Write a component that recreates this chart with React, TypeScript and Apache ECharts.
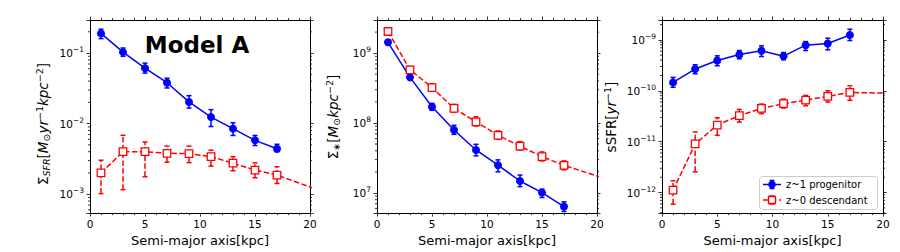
import React, { useEffect, useRef } from "react";
import * as echarts from "echarts";

// ---------- data ----------
const X_PROG = [1, 3, 5, 7, 9, 11, 13, 15, 17];
const X_DESC = [1, 3, 5, 7, 9, 11, 13, 15, 17, 21];

// Panel 1: Sigma_SFR
const sfrProg = [0.19, 0.103, 0.061, 0.038, 0.0203, 0.0124, 0.0085, 0.0058, 0.0044];
const sfrProgLo = [0.16, 0.09, 0.052, 0.032, 0.0166, 0.0091, 0.0068, 0.0049, 0.004];
const sfrProgHi = [0.218, 0.118, 0.072, 0.044, 0.0249, 0.0158, 0.0103, 0.0068, 0.0051];
const sfrDesc = [0.002, 0.004, 0.004, 0.0038, 0.00377, 0.0034, 0.00275, 0.0022, 0.00187, 0.00111];
const sfrDescLo = [0.00102, 0.00116, 0.00177, 0.00284, 0.0028, 0.0025, 0.00215, 0.00171, 0.00142];
const sfrDescHi = [0.00303, 0.00684, 0.0055, 0.0048, 0.0048, 0.0042, 0.0034, 0.00278, 0.00245];

// Panel 2: Sigma_*
const msProg = [1.43e9, 4.5e8, 1.71e8, 7.94e7, 4.12e7, 2.49e7, 1.48e7, 1.01e7, 6.38e6];
const msProgLo = [1.31e9, 4.17e8, 1.52e8, 6.89e7, 3.39e7, 2.0e7, 1.23e7, 8.58e6, 5.42e6];
const msProgHi = [1.55e9, 4.85e8, 1.91e8, 9.27e7, 4.96e7, 2.97e7, 1.8e7, 1.13e7, 7.45e6];
const msDesc = [2.04e9, 5.78e8, 3.22e8, 1.62e8, 1.04e8, 6.67e7, 4.68e7, 3.3e7, 2.48e7, 1.55e7];
const msDescLo = [1.87e9, 5.19e8, 2.87e8, 1.43e8, 9.06e7, 5.85e7, 4.12e7, 2.87e7, 2.14e7];
const msDescHi = [2.22e9, 6.46e8, 3.66e8, 1.85e8, 1.23e8, 7.69e7, 5.42e7, 3.86e7, 2.87e7];

// Panel 3: sSFR
const ssfrProg = [1.46e-10, 2.67e-10, 3.94e-10, 5.16e-10, 6.1e-10, 4.79e-10, 7.87e-10, 8.48e-10, 1.25e-9];
const ssfrProgLo = [1.17e-10, 2.16e-10, 3.1e-10, 4.25e-10, 4.72e-10, 4.06e-10, 6.18e-10, 6.37e-10, 9.7e-10];
const ssfrProgHi = [1.83e-10, 3.24e-10, 4.86e-10, 6.18e-10, 7.63e-10, 5.65e-10, 9.27e-10, 1.08e-9, 1.62e-9];
const ssfrDesc = [1.11e-12, 9.0e-12, 2.12e-11, 3.25e-11, 4.5e-11, 5.57e-11, 6.56e-11, 7.74e-11, 9.27e-11, 8.9e-11];
const ssfrDescLo = [5.9e-13, 2.55e-12, 1.33e-11, 2.43e-11, 3.55e-11, 4.57e-11, 5.08e-11, 6.0e-11, 6.5e-11];
const ssfrDescHi = [1.7e-12, 1.55e-11, 2.95e-11, 4.3e-11, 5.48e-11, 6.87e-11, 8.1e-11, 1.0e-10, 1.25e-10];

const X_TICKS = [0, 5, 10, 15, 20];
const Y_RANGES = [
  [5.4e-4, 0.294],
  [5.14e6, 2.98e9],
  [3.94e-13, 2.46e-9],
];
const DECADES = [
  [-4, -3, -2, -1],
  [6, 7, 8, 9],
  [-13, -12, -11, -10, -9],
];
const MINOR_MULT = [2, 3, 4, 5, 6, 7, 8, 9];

const LEGEND_LABELS = ["z~1 progenitor", "z~0 descendant"];
const TITLE = "Model A";
const X_NAME = "Semi-major axis[kpc]";

const BLUE = "#0000ff";
const RED = "#ff0000";
const FONT = "DejaVu Sans";
const DASH = [5.5, 2.4];

const GRIDS = [
  { left: 90, top: 20, width: 220, height: 194 },
  { left: 377, top: 20, width: 220, height: 194 },
  { left: 662, top: 20, width: 221, height: 194 },
];

function minorTicks(i: number) {
  const [lo, hi] = Y_RANGES[i];
  const out: number[] = [];
  DECADES[i].forEach((d) => {
    MINOR_MULT.forEach((m) => {
      const v = m * Math.pow(10, d);
      if (v > lo && v < hi) out.push(v);
    });
  });
  return out;
}

function yLabel(v: number) {
  const l = Math.log10(v);
  const e = Math.round(l);
  if (Math.abs(l - e) > 1e-6) return "";
  return `{b|10}{s|${e < 0 ? "\u2212" : ""}${Math.abs(e)}}`;
}

const axisRich = {
  b: { fontSize: 10.5, fontFamily: FONT, color: "#000" },
  s: { fontSize: 7.5, fontFamily: FONT, color: "#000", padding: [0, 0, 7, 0] },
};

const nameRich = {
  n: { fontSize: 13.5, fontFamily: FONT, color: "#000" },
  i: { fontSize: 13.5, fontFamily: FONT, fontStyle: "italic", color: "#000" },
  sub: { fontSize: 9.5, fontFamily: FONT, fontStyle: "italic", color: "#000", padding: [6, 0, 0, 0] },
  subn: { fontSize: 9.5, fontFamily: FONT, color: "#000", padding: [6, 0, 0, 0] },
  sup: { fontSize: 9.5, fontFamily: FONT, color: "#000", padding: [0, 0, 8, 0] },
};

const Y_NAMES = [
  "{n|Σ}{sub|SFR}{n|[}{i|M}{subn|⊙}{i|yr}{sup|−1}{i|kpc}{sup|−2}{n|]}",
  "{n|Σ}{subn|∗}{n|[}{i|M}{subn|⊙}{i|kpc}{sup|−2}{n|]}",
  "{n|sSFR[}{i|yr}{sup|−1}{n|]}",
];
const Y_NAME_POS = [
  [43, 124],
  [333, 117],
  [611, 117],
];

function errRender(color: string, dashed: boolean) {
  return (params: any, api: any) => {
    const x = api.value(0);
    const p0 = api.coord([x, api.value(1)]);
    const p1 = api.coord([x, api.value(2)]);
    const w = 2.5;
    const style: any = { stroke: color, lineWidth: 1.5 };
    if (dashed) style.lineDash = DASH;
    const capStyle: any = { stroke: color, lineWidth: 1.5 };
    return {
      type: "group",
      children: [
        { type: "line", shape: { x1: p0[0], y1: p0[1], x2: p1[0], y2: p1[1] }, style },
        { type: "line", shape: { x1: p0[0] - w, y1: p0[1], x2: p0[0] + w, y2: p0[1] }, style: capStyle },
        { type: "line", shape: { x1: p1[0] - w, y1: p1[1], x2: p1[0] + w, y2: p1[1] }, style: capStyle },
      ],
    };
  };
}

function minorRender(params: any, api: any) {
  const v = api.value(0);
  const pl = api.coord([0, v]);
  const pr = api.coord([20, v]);
  const st = { stroke: "#000", lineWidth: 0.8 };
  return {
    type: "group",
    children: [
      { type: "line", shape: { x1: pl[0] - 2, y1: pl[1], x2: pl[0], y2: pl[1] }, style: st },
      { type: "line", shape: { x1: pr[0], y1: pr[1], x2: pr[0] + 2, y2: pr[1] }, style: st },
    ],
  };
}

export default function App() {
  const ref = useRef<HTMLDivElement>(null);
  useEffect(() => {
    if (!ref.current) return;
    const chart = echarts.init(ref.current, null, { renderer: "svg" });

    const panels = [
      { prog: sfrProg, lo: sfrProgLo, hi: sfrProgHi, desc: sfrDesc, dlo: sfrDescLo, dhi: sfrDescHi },
      { prog: msProg, lo: msProgLo, hi: msProgHi, desc: msDesc, dlo: msDescLo, dhi: msDescHi },
      { prog: ssfrProg, lo: ssfrProgLo, hi: ssfrProgHi, desc: ssfrDesc, dlo: ssfrDescLo, dhi: ssfrDescHi },
    ];

    const xAxis: any[] = [];
    const yAxis: any[] = [];
    const series: any[] = [];
    const axisLine = { show: true, onZero: false, lineStyle: { color: "#000", width: 1 } };

    GRIDS.forEach((g, i) => {
      const xBase = {
        type: "value",
        gridIndex: i,
        min: X_TICKS[0],
        max: X_TICKS[X_TICKS.length - 1],
        interval: X_TICKS[1] - X_TICKS[0],
        axisLine,
        axisTick: { show: true, inside: false, length: 3.5, lineStyle: { color: "#000", width: 0.8 } },
        minorTick: { show: true, splitNumber: 5, length: 2, lineStyle: { color: "#000", width: 0.8 } },
        splitLine: { show: false },
        minorSplitLine: { show: false },
      };
      xAxis.push({
        ...xBase,
        position: "bottom",
        axisLabel: { show: true, fontSize: 10.5, fontFamily: FONT, color: "#000", margin: 5 },
        name: X_NAME,
        nameLocation: "middle",
        nameGap: 20,
        nameTextStyle: { fontSize: 13, fontFamily: FONT, color: "#000" },
      });
      xAxis.push({ ...xBase, position: "top", axisLabel: { show: false } });

      const yBase = {
        type: "log",
        logBase: 10,
        gridIndex: i,
        min: Y_RANGES[i][0],
        max: Y_RANGES[i][1],
        axisLine,
        axisTick: { show: true, inside: false, length: 3.5, lineStyle: { color: "#000", width: 0.8 } },
        splitLine: { show: false },
      };
      yAxis.push({
        ...yBase,
        position: "left",
        axisLabel: {
          show: true,
          margin: 6,
          formatter: yLabel,
          rich: axisRich,
          showMinLabel: true,
          showMaxLabel: true,
        },
      });
      yAxis.push({ ...yBase, position: "right", axisLabel: { show: false } });

      const p = panels[i];
      const xb = i * 2;
      const yb = i * 2;

      series.push({
        type: "custom",
        xAxisIndex: xb,
        yAxisIndex: yb,
        renderItem: minorRender,
        data: minorTicks(i).map((v) => [v]),
        encode: { y: 0 },
        silent: true,
        z: 5,
      });
      series.push({
        type: "custom",
        xAxisIndex: xb,
        yAxisIndex: yb,
        renderItem: errRender(BLUE, false),
        data: X_PROG.map((x, k) => [x, p.lo[k], p.hi[k]]),
        encode: { x: 0, y: [1, 2] },
        z: 2,
        silent: true,
      });
      series.push({
        type: "line",
        xAxisIndex: xb,
        yAxisIndex: yb,
        data: X_PROG.map((x, k) => [x, p.prog[k]]),
        lineStyle: { color: BLUE, width: 1.5 },
        itemStyle: { color: BLUE, borderColor: BLUE, borderWidth: 0 },
        symbol: "circle",
        symbolSize: 8,
        showSymbol: true,
        clip: true,
        z: 3,
        silent: true,
      });
      series.push({
        type: "custom",
        xAxisIndex: xb,
        yAxisIndex: yb,
        renderItem: errRender(RED, true),
        data: X_DESC.slice(0, p.dlo.length).map((x, k) => [x, p.dlo[k], p.dhi[k]]),
        encode: { x: 0, y: [1, 2] },
        z: 4,
        silent: true,
      });
      series.push({
        type: "line",
        xAxisIndex: xb,
        yAxisIndex: yb,
        data: X_DESC.map((x, k) => [x, p.desc[k]]),
        lineStyle: { color: RED, width: 1.5, type: DASH },
        itemStyle: { color: "#fff", borderColor: RED, borderWidth: 1.3 },
        symbol: "rect",
        symbolSize: 7.5,
        showSymbol: true,
        clip: true,
        z: 5,
        silent: true,
      });
    });

    const graphic: any[] = [
      {
        type: "text",
        x: 197,
        y: 45,
        style: {
          text: TITLE,
          fontSize: 23,
          fontWeight: "bold",
          fontFamily: FONT,
          fill: "#000",
          align: "center",
          verticalAlign: "middle",
        },
        z: 100,
      },
      ...Y_NAMES.map((t, i) => ({
        type: "text",
        x: Y_NAME_POS[i][0],
        y: Y_NAME_POS[i][1],
        rotation: Math.PI / 2,
        style: { text: t, rich: nameRich, align: "center", verticalAlign: "middle" },
      })),
      {
        type: "group",
        z: 100,
        children: [
          {
            type: "rect",
            shape: { x: 759.5, y: 176.5, width: 118, height: 33, r: 3 },
            style: { fill: "rgba(255,255,255,0.8)", stroke: "#cccccc", lineWidth: 1 },
          },
          { type: "line", shape: { x1: 763, y1: 184.5, x2: 781, y2: 184.5 }, style: { stroke: BLUE, lineWidth: 1.5 } },
          { type: "line", shape: { x1: 772, y1: 180.5, x2: 772, y2: 188.5 }, style: { stroke: BLUE, lineWidth: 1.5 } },
          { type: "line", shape: { x1: 769.5, y1: 180.5, x2: 774.5, y2: 180.5 }, style: { stroke: BLUE, lineWidth: 1.5 } },
          { type: "line", shape: { x1: 769.5, y1: 188.5, x2: 774.5, y2: 188.5 }, style: { stroke: BLUE, lineWidth: 1.5 } },
          { type: "circle", shape: { cx: 772, cy: 184.5, r: 3.8 }, style: { fill: BLUE } },
          {
            type: "text",
            x: 786,
            y: 184.5,
            style: { text: LEGEND_LABELS[0], fontSize: 10, fontFamily: FONT, fill: "#000", verticalAlign: "middle" },
          },
          { type: "line", shape: { x1: 763, y1: 200, x2: 781, y2: 200 }, style: { stroke: RED, lineWidth: 1.5, lineDash: DASH } },
          { type: "line", shape: { x1: 772, y1: 196, x2: 772, y2: 204 }, style: { stroke: RED, lineWidth: 1.5, lineDash: [2.5, 1.5] } },
          { type: "line", shape: { x1: 769.5, y1: 196, x2: 774.5, y2: 196 }, style: { stroke: RED, lineWidth: 1.5 } },
          { type: "line", shape: { x1: 769.5, y1: 204, x2: 774.5, y2: 204 }, style: { stroke: RED, lineWidth: 1.5 } },
          { type: "rect", shape: { x: 768.5, y: 196.5, width: 7, height: 7 }, style: { fill: "#fff", stroke: RED, lineWidth: 1.3 } },
          {
            type: "text",
            x: 786,
            y: 200,
            style: { text: LEGEND_LABELS[1], fontSize: 10, fontFamily: FONT, fill: "#000", verticalAlign: "middle" },
          },
        ],
      },
    ];

    chart.setOption({
      animation: false,
      backgroundColor: "#ffffff",
      textStyle: { fontFamily: FONT },
      grid: GRIDS.map((g) => ({ ...g, containLabel: false })),
      xAxis,
      yAxis,
      series,
      graphic,
    });
    return () => chart.dispose();
  }, []);
  return (
    <div
      ref={ref}
      style={{ position: "fixed", left: 0, top: 0, width: 900, height: 252, background: "#fff" }}
    />
  );
}
